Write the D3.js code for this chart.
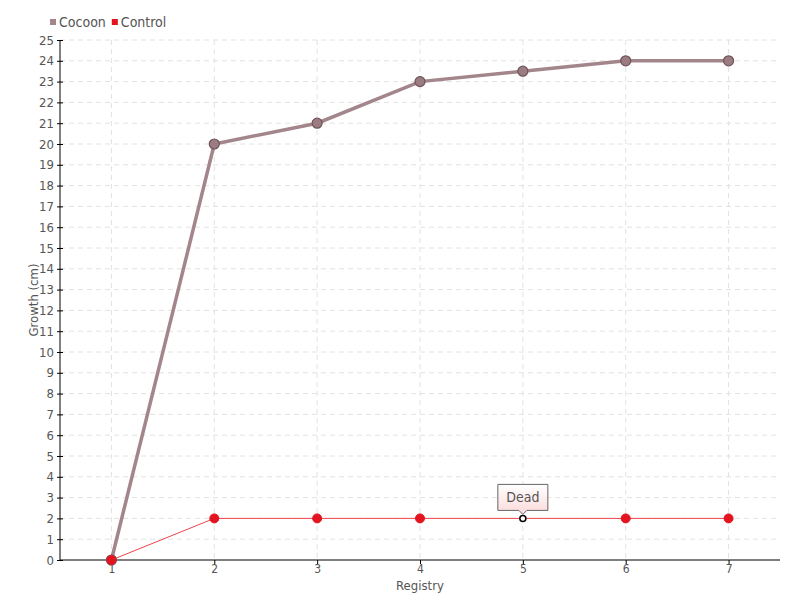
<!DOCTYPE html>
<html lang="en">
<head>
<meta charset="UTF-8" />
<title>Growth by Registry</title>
<script src="https://cdn.jsdelivr.net/npm/d3@7"></script>
<style>
  body { margin: 0; background: #fff; }
  text { font-family: "DejaVu Sans Condensed", "Liberation Sans Narrow", sans-serif; fill: #555; }
</style>
</head>
<body>
<svg id="chart" width="800" height="600"></svg>
<script>
  // data
  const registry = [1, 2, 3, 4, 5, 6, 7];
  const cocoon = [0, 20, 21, 23, 23.5, 24, 24];
  const control = [0, 2, 2, 2, 2, 2, 2];
  const yTicks = d3.range(0, 26);
  const note = { index: 4, text: "Dead" };

  const margin = { top: 40, right: 20, bottom: 40, left: 60 };
  const width = 800, height = 600;
  const svg = d3.select('#chart');

  const x = d3.scalePoint()
      .domain(registry)
      .range([margin.left, width - margin.right])
      .padding(0.5);
  const y = d3.scaleLinear()
      .domain([0, 25])
      .range([height - margin.bottom, margin.top]);

  // grid
  const grid = svg.append('g').attr('stroke', '#e2e2e2').attr('stroke-dasharray', '5,4');
  grid.selectAll('.h').data(yTicks.slice(1)).enter().append('line')
      .attr('x1', margin.left).attr('x2', width - margin.right)
      .attr('y1', d => y(d)).attr('y2', d => y(d));
  grid.selectAll('.v').data(registry).enter().append('line')
      .attr('x1', d => x(d)).attr('x2', d => x(d))
      .attr('y1', margin.top).attr('y2', height - margin.bottom);

  // axes
  const yAxis = svg.append('g')
      .attr('transform', `translate(${margin.left},0)`)
      .call(d3.axisLeft(y).tickValues(yTicks).tickSize(4).tickSizeOuter(0).tickPadding(2));
  yAxis.selectAll('.tick line').attr('x1', 3).attr('x2', -3);
  const xAxis = svg.append('g')
      .attr('transform', `translate(0,${height - margin.bottom})`)
      .call(d3.axisBottom(x).tickSize(4).tickSizeOuter(0).tickPadding(0));
  [yAxis, xAxis].forEach(a => {
    a.select('.domain').attr('stroke', '#000');
    a.selectAll('.tick line').attr('stroke', '#000');
    a.selectAll('text').style('font-size', '13px').attr('fill', '#555');
  });
  xAxis.selectAll('text').style('font-size', '12px');
  xAxis.select('.domain').attr('d', `M${margin.left},0H${width - margin.right}`);
  yAxis.select('.domain').attr('d', `M0,${height - margin.bottom}V${margin.top}`);

  svg.append('text')
      .attr('transform', `translate(38,${(margin.top + height - margin.bottom) / 2}) rotate(-90)`)
      .attr('text-anchor', 'middle').style('font-size', '13px')
      .text('Growth (cm)');
  svg.append('text')
      .attr('x', (margin.left + width - margin.right) / 2).attr('y', 590)
      .attr('text-anchor', 'middle').style('font-size', '13px')
      .text('Registry');

  // lines
  const line = d3.line().x((d, i) => x(registry[i])).y(d => y(d));

  svg.append('path').datum(control)
      .attr('fill', 'none').attr('stroke', '#f2434d').attr('stroke-width', 1)
      .attr('d', line);
  svg.append('path').datum(cocoon)
      .attr('fill', 'none').attr('stroke', '#a3868b').attr('stroke-width', 3.5)
      .attr('d', line);

  svg.selectAll('.pc').data(cocoon).enter().append('circle')
      .attr('cx', (d, i) => x(registry[i])).attr('cy', d => y(d)).attr('r', 5)
      .attr('fill', '#9b7c82').attr('stroke', '#6f5358').attr('stroke-width', 1.2);

  svg.selectAll('.pk').data(control).enter().append('circle')
      .attr('cx', (d, i) => x(registry[i])).attr('cy', d => y(d))
      .attr('r', (d, i) => i === note.index ? 3 : 4.5)
      .attr('fill', (d, i) => i === note.index ? '#fff' : '#e3141f')
      .attr('stroke', (d, i) => i === note.index ? '#000' : '#e3141f')
      .attr('stroke-width', (d, i) => i === note.index ? 1.5 : 1);

  // tooltip
  const defs = svg.append('defs');
  const grad = defs.append('linearGradient').attr('id', 'tip').attr('x1', 0).attr('x2', 0).attr('y1', 0).attr('y2', 1);
  grad.append('stop').attr('offset', '0%').attr('stop-color', '#ffffff');
  grad.append('stop').attr('offset', '100%').attr('stop-color', '#fcd9d9');
  const tx = x(registry[note.index]), ty = y(control[note.index]);
  const tip = svg.append('g').attr('transform', `translate(${tx},${ty})`);
  tip.append('path')
      .attr('d', 'M-25,-34H25V-8H4L0,-4L-4,-8H-25Z')
      .attr('fill', 'url(#tip)').attr('stroke', '#666').attr('stroke-width', 1);
  tip.append('text').attr('y', -16).attr('text-anchor', 'middle')
      .style('font-size', '14px').text(note.text);

  // legend
  const legend = [{ name: 'Cocoon', color: '#a3868b' }, { name: 'Control', color: '#e3141f' }];
  const lg = svg.append('g').attr('transform', 'translate(50,22)');
  let lx = 0;
  legend.forEach(l => {
    lg.append('rect').attr('x', lx).attr('y', -3).attr('width', 6).attr('height', 6).attr('fill', l.color);
    const t = lg.append('text').attr('x', lx + 9).attr('y', 5).style('font-size', '14px').text(l.name);
    lx += t.node().getComputedTextLength() + 15;
  });
</script>
</body>
</html>
